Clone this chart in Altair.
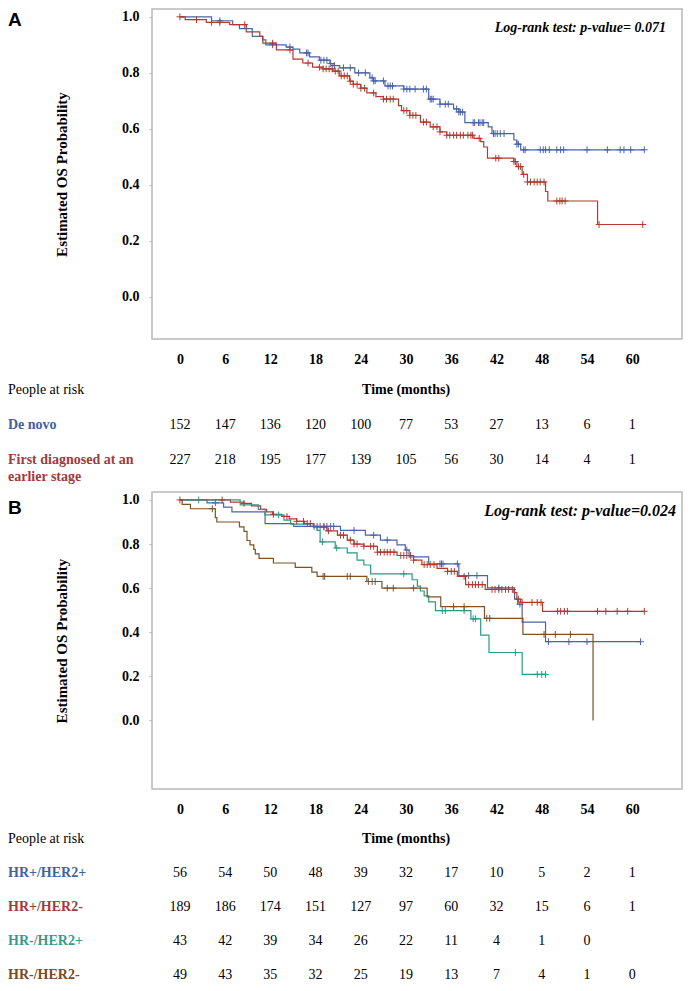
import altair as alt
import pandas as pd

SERIF = "Liberation Serif"
SANS = "Liberation Sans"

month_ticks = [0, 6, 12, 18, 24, 30, 36, 42, 48, 54, 60]
prob_ticks = [0.0, 0.2, 0.4, 0.6, 0.8, 1.0]

# ---------------- Panel A data ----------------
a_names = ["De novo", "First diagnosed at an\nearlier stage"]
a_colors = ["#4a63aa", "#b23a2f"]
a_label_colors = ["#3f5fa3", "#a13a3a"]
a_pvalue = "Log-rank test: p-value= 0.071"

denovo_t = [0, 4.2, 7.0, 7.9, 9.6, 11.0, 11.4, 14.1, 15.0, 15.9, 17.2, 18.5, 19.9, 20.3, 21.2,
            23.2, 25.2, 25.7, 27.2, 29.7, 33.0, 34.5, 36.3, 37.0, 37.8, 40.9, 41.4, 44.3, 44.7,
            45.2, 61.6]
denovo_s = [1.0, 0.986, 0.972, 0.958, 0.930, 0.918, 0.900, 0.892, 0.885, 0.871, 0.857, 0.845,
            0.833, 0.826, 0.818, 0.800, 0.782, 0.771, 0.753, 0.742, 0.706, 0.688, 0.671, 0.660,
            0.622, 0.607, 0.583, 0.560, 0.545, 0.525, 0.525]
denovo_cens = [5.3, 12.3, 14.6, 16.8, 17.0, 18.7, 19.1, 19.5, 20.0, 20.5, 21.7, 22.6, 23.7, 24.6,
               25.5, 25.7, 25.9, 27.0, 27.6, 27.9, 28.2, 29.7, 30.1, 30.5, 31.2, 32.3, 32.7, 33.2,
               33.4, 33.6, 34.5, 35.2, 35.6, 36.7, 37.0, 37.2, 37.5, 38.9, 39.1, 39.6, 39.8, 40.1,
               40.3, 41.6, 41.8, 42.1, 42.5, 43.0, 44.7, 44.9, 45.6, 45.8, 47.8, 48.2, 48.5, 49.0,
               50.0, 50.5, 50.9, 54.0, 56.7, 58.4, 58.9, 59.8, 61.6]

earlier_t = [0, 0.7, 3.5, 6.6, 8.8, 10.6, 11.0, 12.8, 15.0, 16.3, 17.6, 19.0, 20.3, 21.2, 22.5,
             23.0, 24.0, 24.8, 26.0, 27.0, 29.0, 29.4, 30.5, 31.9, 33.2, 34.5, 35.4, 39.0, 39.9,
             40.3, 40.8, 44.3, 44.7, 45.4, 46.1, 48.5, 48.8, 55.4, 61.4]
earlier_s = [1.0, 0.990, 0.980, 0.972, 0.946, 0.930, 0.906, 0.882, 0.849, 0.835, 0.820, 0.814,
             0.806, 0.789, 0.770, 0.759, 0.745, 0.728, 0.715, 0.706, 0.683, 0.665, 0.648, 0.624,
             0.607, 0.589, 0.577, 0.566, 0.554, 0.535, 0.495, 0.483, 0.465, 0.437, 0.410, 0.376,
             0.342, 0.258, 0.258]
earlier_cens = [0, 2.2, 4.2, 5.3, 8.6, 12.3, 14.6, 17.0, 18.5, 19.0, 19.4, 19.8, 20.2, 20.6, 21.0,
                21.4, 21.8, 22.2, 22.6, 23.0, 23.5, 24.0, 24.5, 25.7, 27.0, 27.4, 27.9, 28.3, 29.7,
                30.1, 30.5, 30.9, 31.3, 32.3, 32.7, 33.6, 34.1, 34.5, 35.4, 35.8, 36.3, 36.7, 37.2,
                37.6, 38.2, 38.6, 38.8, 39.7, 41.9, 42.3, 44.3, 44.5, 44.9, 45.2, 45.6, 46.1, 46.5,
                47.0, 47.4, 47.8, 48.3, 50.0, 50.4, 50.7, 51.1, 55.6, 61.4]

risk_denovo = [152, 147, 136, 120, 100, 77, 53, 27, 13, 6, 1]
risk_earlier = [227, 218, 195, 177, 139, 105, 56, 30, 14, 4, 1]

# ---------------- Panel B data ----------------
b_names = ["HR+/HER2+", "HR+/HER2-", "HR-/HER2+", "HR-/HER2-"]
b_colors = ["#4a63aa", "#b23a2f", "#2a9a86", "#7c5226"]
b_label_colors = ["#3f63a5", "#a33a3a", "#3a9a8a", "#7a4a22"]
b_pvalue = "Log-rank test: p-value=0.024"

pp_t = [0, 3.6, 5.8, 6.9, 11.3, 15.1, 21.3, 24.6, 26.6, 28.8, 29.9, 30.4, 33.0, 37.0, 40.8, 44.4,
        44.8, 45.4, 48.5, 61.1]
pp_s = [1.0, 0.987, 0.967, 0.946, 0.893, 0.880, 0.862, 0.840, 0.818, 0.796, 0.773, 0.742, 0.710,
        0.657, 0.601, 0.550, 0.527, 0.446, 0.357, 0.357]
pp_cens = [4.7, 17.8, 18.2, 18.6, 19.1, 19.5, 20.0, 20.4, 23.1, 25.7, 27.5, 30.1, 34.5, 34.7, 34.9,
           36.8, 38.3, 39.4, 42.3, 45.1, 48.9, 51.6, 54.0, 61.1]

pn_t = [0, 6.7, 8.5, 9.5, 10.7, 11.5, 12.3, 13.5, 14.5, 15.5, 16.5, 17.7, 19.5, 20.9, 22.2, 23.1,
        24.4, 26.2, 28.8, 31.0, 32.1, 34.1, 35.5, 36.8, 37.9, 40.5, 44.3, 44.7, 45.2, 48.1, 61.6]
pn_s = [1.0, 0.990, 0.984, 0.973, 0.957, 0.946, 0.935, 0.925, 0.914, 0.903, 0.893, 0.877, 0.860,
        0.840, 0.818, 0.800, 0.790, 0.763, 0.748, 0.727, 0.707, 0.690, 0.676, 0.653, 0.616, 0.594,
        0.580, 0.550, 0.535, 0.495, 0.495]
pn_cens = [0, 5.6, 8.5, 12.4, 14.2, 15.5, 16.4, 16.9, 17.3, 19.1, 19.7, 21.3, 21.7, 22.6, 23.1,
           23.5, 24.4, 25.3, 25.7, 26.2, 26.6, 27.1, 27.5, 27.9, 28.4, 29.3, 29.7, 30.1, 30.6,
           31.0, 32.4, 32.8, 33.2, 33.7, 35.5, 36.0, 36.4, 37.7, 38.3, 38.8, 39.2, 39.6, 40.1,
           41.4, 41.8, 42.3, 42.7, 43.2, 43.6, 44.1, 44.9, 45.4, 46.7, 47.4, 47.9, 50.1, 50.5,
           51.0, 51.4, 55.4, 56.5, 58.0, 59.4, 61.6]

np_t = [0, 8.0, 10.4, 11.3, 13.8, 14.7, 17.3, 18.2, 18.6, 20.6, 22.2, 23.5, 24.4, 25.3, 30.8,
        31.5, 31.9, 32.4, 33.0, 33.9, 38.6, 39.9, 41.0, 45.4, 48.5]
np_s = [1.0, 0.978, 0.957, 0.932, 0.908, 0.890, 0.880, 0.862, 0.810, 0.782, 0.760, 0.727, 0.705,
        0.665, 0.638, 0.609, 0.587, 0.565, 0.538, 0.498, 0.461, 0.387, 0.308, 0.209, 0.209]
np_cens = [2.5, 13.1, 18.9, 20.8, 29.7, 34.8, 35.2, 37.7, 38.9, 39.2, 44.5, 47.4, 48.0, 48.5]

nn_t = [0, 0.3, 1.4, 4.7, 4.9, 7.9, 8.5, 8.9, 9.3, 9.8, 10.0, 10.5, 12.4, 15.3, 17.5, 18.2, 24.8,
        26.8, 32.8, 34.6, 40.4, 45.5, 54.8]
nn_s = [1.0, 0.980, 0.960, 0.920, 0.900, 0.878, 0.857, 0.816, 0.796, 0.776, 0.755, 0.735, 0.714,
        0.694, 0.673, 0.653, 0.630, 0.600, 0.560, 0.516, 0.463, 0.390, 0.0]
nn_cens = [4.3, 19.0, 19.2, 22.2, 22.6, 25.0, 25.5, 25.9, 27.5, 28.3, 31.0, 36.3, 37.7, 40.7, 41.1,
           48.3, 49.8, 51.8]

risk_pp = [56, 54, 50, 48, 39, 32, 17, 10, 5, 2, 1]
risk_pn = [189, 186, 174, 151, 127, 97, 60, 32, 15, 6, 1]
risk_np = [43, 42, 39, 34, 26, 22, 11, 4, 1, 0]
risk_nn = [49, 43, 35, 32, 25, 19, 13, 7, 4, 1, 0]

# ---------------- layout settings ----------------
W = 530
X_DOM = [-3.7, 66.6]
LEFT = -144
FRAME = "#b9b9b9"


def step_value(ts, ss, c):
    val = ss[0]
    for t, s in zip(ts, ss):
        if t <= c:
            val = s
    return val


def plot_panel(names, colors, curves, ydom, height, letter, letter_y, pvalue, psize, pval_right):
    line_rows, cens_rows = [], []
    for name, (ts, ss, cens) in zip(names, curves):
        for t, s in zip(ts, ss):
            line_rows.append({"t": t, "s": s, "g": name})
        for c in cens:
            cens_rows.append({"t": c, "s": step_value(ts, ss, c), "g": name})
    line_df = pd.DataFrame(line_rows)
    cens_df = pd.DataFrame(cens_rows)
    cscale = alt.Scale(domain=names, range=colors)
    xs = alt.Scale(domain=X_DOM, nice=False, zero=False)
    ys = alt.Scale(domain=ydom, nice=False, zero=False)
    xax = alt.Axis(values=month_ticks, title=None, grid=False, domain=False, ticks=False,
                   labelFont=SERIF, labelFontWeight="bold", labelFontSize=14, labelColor="black",
                   labelPadding=13, labelFlush=False)
    yax = alt.Axis(values=prob_ticks, format=".1f", title="Estimated OS Probability", grid=False,
                   domain=False, tickSize=3, tickColor=FRAME, labelFont=SERIF,
                   labelFontWeight="bold", labelFontSize=14, labelColor="black", labelPadding=10,
                   labelFlush=False, titleFont=SERIF, titleFontSize=15, titleFontWeight="bold",
                   titleColor="black", titlePadding=52)
    frame = alt.Chart(pd.DataFrame({"k": [0]})).mark_rect(
        fillOpacity=0, stroke=FRAME, strokeWidth=1.5
    ).encode(x=alt.value(0), x2=alt.value(W), y=alt.value(0), y2=alt.value(height))
    lines = alt.Chart(line_df).mark_line(interpolate="step-after", strokeWidth=1.2).encode(
        x=alt.X("t:Q", scale=xs, axis=xax),
        y=alt.Y("s:Q", scale=ys, axis=yax),
        color=alt.Color("g:N", scale=cscale, legend=None),
    )
    cens = alt.Chart(cens_df).mark_point(
        shape="M0,-1L0,1M-1,0L1,0", filled=False, size=46, strokeWidth=1, opacity=1
    ).encode(
        x="t:Q", y="s:Q", color=alt.Color("g:N", scale=cscale, legend=None)
    )
    letter_t = alt.Chart(pd.DataFrame({"txt": [letter]})).mark_text(
        font=SANS, fontSize=19, fontWeight="bold", align="left", baseline="middle", color="black"
    ).encode(text="txt:N", x=alt.value(LEFT), y=alt.value(letter_y))
    pval_t = alt.Chart(pd.DataFrame({"txt": [pvalue]})).mark_text(
        font=SERIF, fontSize=psize, fontWeight="bold", fontStyle="italic", align="right",
        baseline="middle", color="black"
    ).encode(text="txt:N", x=alt.value(W - pval_right), y=alt.value(19))
    return alt.layer(frame, lines, cens, letter_t, pval_t).properties(width=W, height=height)


def risk_table(names, label_colors, risks, step):
    keys = ["People at risk"] + names
    nrows = len(keys)
    pad = 0.3
    height = step * (nrows - 1 + 2 * pad)
    xs = alt.Scale(domain=X_DOM, nice=False, zero=False)
    ys = alt.Scale(domain=keys, type="point", padding=pad)
    num_rows = []
    for name, counts in zip(names, risks):
        for t, n in zip(month_ticks, counts):
            num_rows.append({"t": t, "key": name, "n": n})
    nums = alt.Chart(pd.DataFrame(num_rows)).mark_text(
        font=SERIF, fontSize=14, color="black", baseline="middle"
    ).encode(
        x=alt.X("t:Q", scale=xs, axis=None),
        y=alt.Y("key:N", scale=ys, axis=None),
        text="n:Q",
    )
    hdr = alt.Chart(pd.DataFrame({"key": ["People at risk"], "lab": ["People at risk"]})).mark_text(
        font=SERIF, fontSize=14, color="black", align="left", baseline="middle"
    ).encode(x=alt.value(LEFT), y=alt.Y("key:N", scale=ys, axis=None), text="lab:N")
    ttl = alt.Chart(pd.DataFrame({"key": ["People at risk"], "t": [30], "lab": ["Time (months)"]})).mark_text(
        font=SERIF, fontSize=14, fontWeight="bold", color="black", baseline="middle"
    ).encode(x=alt.X("t:Q", scale=xs, axis=None), y=alt.Y("key:N", scale=ys, axis=None),
             text="lab:N")
    labs = alt.Chart(pd.DataFrame({"key": names, "lab": names})).mark_text(
        font=SERIF, fontSize=14, fontWeight="bold", align="left", baseline="top", dy=-7,
        lineBreak="\n", lineHeight=17
    ).encode(
        x=alt.value(LEFT),
        y=alt.Y("key:N", scale=ys, axis=None),
        text="lab:N",
        color=alt.Color("key:N", scale=alt.Scale(domain=names, range=label_colors), legend=None),
    )
    return alt.layer(nums, hdr, ttl, labs).properties(width=W, height=height)


plot_a = plot_panel(a_names, a_colors,
                    [(denovo_t, denovo_s, denovo_cens), (earlier_t, earlier_s, earlier_cens)],
                    [-0.151, 1.028], 330, "A", 11, a_pvalue, 14, 16)
table_a = risk_table(a_names, a_label_colors, [risk_denovo, risk_earlier], 35)

plot_b = plot_panel(b_names, b_colors,
                    [(pp_t, pp_s, pp_cens), (pn_t, pn_s, pn_cens), (np_t, np_s, np_cens),
                     (nn_t, nn_s, nn_cens)],
                    [-0.311, 1.036], 297, "B", 16, b_pvalue, 16, 6)
table_b = risk_table(b_names, b_label_colors, [risk_pp, risk_pn, risk_np, risk_nn], 34)

chart = alt.vconcat(
    alt.vconcat(plot_a, table_a, spacing=13).resolve_scale(color="independent"),
    alt.vconcat(plot_b, table_b, spacing=13).resolve_scale(color="independent"),
    spacing=7,
).resolve_scale(
    color="independent"
).properties(
    padding=0, background="white"
).configure_view(stroke=None)

chart.save("out.html", embed_options={"renderer": "svg", "actions": False})
